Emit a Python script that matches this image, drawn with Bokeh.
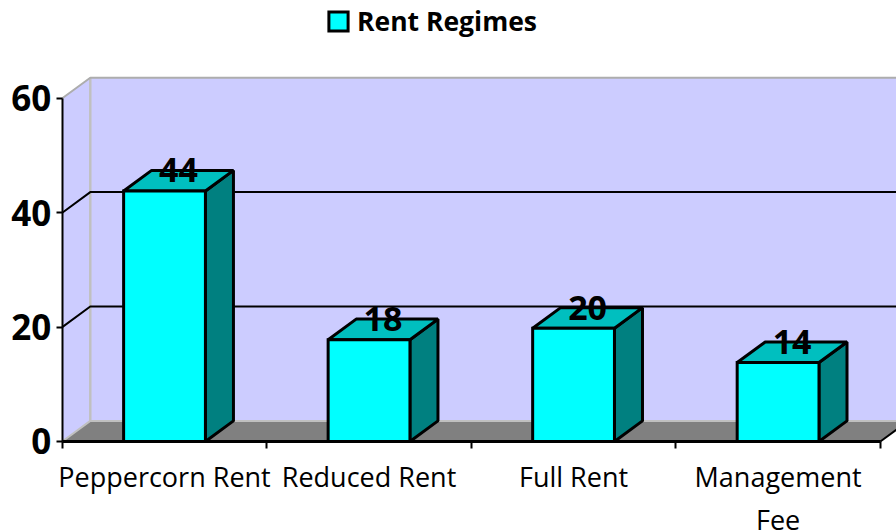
from bokeh.plotting import figure
from bokeh.models import FixedTicker, Label, Legend, LegendItem, Range1d
from bokeh.core.properties import value
from bokeh.embed import file_html
from bokeh.resources import INLINE

categories = ["Peppercorn Rent", "Reduced Rent", "Full Rent", "Management\nFee"]
counts = [44, 18, 20, 14]
y_ticks = [0, 20, 40, 60]
series_name = "Rent Regimes"

FONT = "Open Sans"
BAR_W = 0.40
DX = 0.137
DY = 3.6
X0, XN = -0.5, 3.5
idx = list(range(len(categories)))
bar_h = [c - 0.2 for c in counts]

p = figure(width=896, height=530, output_backend="svg", toolbar_location=None,
           frame_width=896, frame_height=530,
           min_border_left=0, min_border_right=0, min_border_top=0, min_border_bottom=0,
           x_range=Range1d(-0.802, 3.579), y_range=Range1d(-15.56, 77.1),
           background_fill_color="white", outline_line_color=None)
p.grid.visible = False

# walls and floor
far_right = XN + DX
p.patch([X0, X0 + DX, X0 + DX, X0], [0, DY, 60 + DY, 60], fill_color="#CCCCFF", line_color=None)
p.patch([X0 + DX, far_right, far_right, X0 + DX], [DY, DY, 60 + DY, 60 + DY], fill_color="#CCCCFF", line_color=None)
p.patch([X0, X0 + DX, far_right, XN], [0, DY, DY, 0], fill_color="#808080", line_color=None)

# wall edges
p.line([X0 + DX, X0 + DX], [DY, 60 + DY], line_color="#C0C0C0", line_width=2.5)
p.line([X0, X0 + DX, far_right], [60, 60 + DY, 60 + DY], line_color="#ADADAD", line_width=2)
p.line([X0, X0 + DX, far_right], [0, DY, DY], line_color="#C0C0C0", line_width=2)

# gridlines
for t in y_ticks[1:-1]:
    p.line([X0, X0 + DX, far_right], [t, t + DY, t + DY], line_color="black", line_width=2)

# floor right end
p.line([XN, far_right], [0, DY], line_color="black", line_width=2)

# bars
side_x = [[i + BAR_W / 2, i + BAR_W / 2 + DX, i + BAR_W / 2 + DX, i + BAR_W / 2] for i in idx]
side_y = [[0, DY, h + DY, h] for h in bar_h]
top_x = [[i - BAR_W / 2, i - BAR_W / 2 + DX, i + BAR_W / 2 + DX, i + BAR_W / 2] for i in idx]
top_y = [[h, h + DY, h + DY, h] for h in bar_h]
p.patches(side_x, side_y, fill_color="#008080", line_color="black", line_width=3)
p.patches(top_x, top_y, fill_color="#00BFBF", line_color="black", line_width=3)
front = p.quad(left=[i - BAR_W / 2 for i in idx], right=[i + BAR_W / 2 for i in idx],
               bottom=0, top=bar_h, fill_color="#00FFFF", line_color="black", line_width=3,
               line_join="miter")

# data labels
p.text([i + DX / 2 for i in idx], [h + DY for h in bar_h], text=[str(c) for c in counts],
       text_font=value(FONT), text_font_style="bold", text_font_size="34px",
       text_align="center", text_baseline="middle", text_color="black")

# axes
yax = p.yaxis[0]
yax.fixed_location = X0
yax.ticker = FixedTicker(ticks=y_ticks)
yax.bounds = (0, 60)
yax.axis_line_color = "black"
yax.axis_line_width = 2
yax.major_tick_line_width = 2
yax.major_tick_in = 0
yax.major_tick_out = 6
yax.minor_tick_line_color = None
yax.major_label_standoff = 5
yax.major_label_text_font = FONT
yax.major_label_text_font_style = "bold"
yax.major_label_text_font_size = "35px"
yax.major_label_text_color = "black"

xax = p.xaxis[0]
xax.fixed_location = 0
xax.ticker = FixedTicker(ticks=idx, minor_ticks=[i - 0.5 for i in idx] + [XN])
xax.bounds = (X0, XN)
xax.major_label_overrides = {i: c.split("\n")[0] for i, c in zip(idx, categories)}
xax.axis_line_color = "black"
xax.axis_line_width = 3
xax.major_tick_line_color = None
xax.minor_tick_line_color = "black"
xax.minor_tick_line_width = 2
xax.minor_tick_in = 0
xax.minor_tick_out = 7
xax.major_label_standoff = 10
xax.major_label_text_font = FONT
xax.major_label_text_font_size = "27px"
xax.major_label_text_color = "black"

# second lines of wrapped category labels
for i, c in zip(idx, categories):
    for extra in c.split("\n")[1:]:
        p.add_layout(Label(x=i, y=0, y_offset=-78, text=extra, text_font=FONT,
                           text_font_size="27px", text_color="black",
                           text_align="center", text_baseline="middle"))

legend = Legend(items=[LegendItem(label=series_name, renderers=[front])],
                location=(326, 491), orientation="horizontal",
                padding=0, margin=0, border_line_color=None, background_fill_alpha=0,
                glyph_width=24, glyph_height=24, label_standoff=7,
                label_text_font=FONT, label_text_font_style="bold",
                label_text_font_size="26.5px", label_text_color="black")
p.add_layout(legend, "center")

open("out.html", "w").write(file_html(p, INLINE))
